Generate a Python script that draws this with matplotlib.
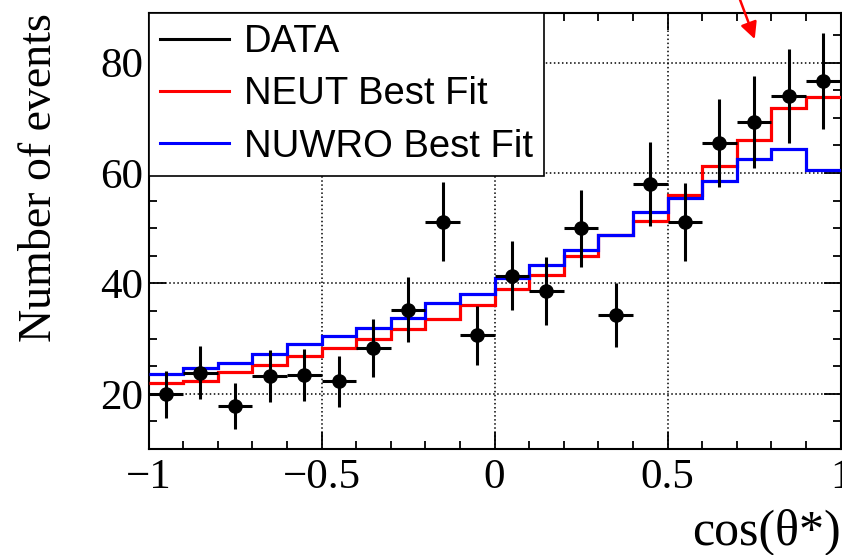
import numpy as np
import matplotlib
matplotlib.use('Agg')
import matplotlib.pyplot as plt
from matplotlib.lines import Line2D
from matplotlib.ticker import MultipleLocator, FixedLocator

# binning in cos(theta*)
bin_edges = np.linspace(-1, 1, 21)

# data points
data_vals = [19.9, 23.8, 17.8, 23.2, 23.4, 22.3, 28.3, 35.2, 51.2, 30.6,
             41.4, 38.6, 50.0, 34.2, 58.0, 51.1, 65.4, 69.2, 74.0, 76.6]
data_err = [4.3, 4.8, 4.1, 4.7, 4.7, 4.6, 5.2, 5.9, 7.1, 5.4,
            6.3, 6.1, 7.0, 5.8, 7.6, 7.1, 8.0, 8.3, 8.5, 8.7]

neut_vals = [21.9, 22.3, 23.9, 25.2, 26.8, 28.3, 30.0, 31.8, 33.6, 36.1,
             39.0, 41.6, 44.9, 48.8, 51.4, 56.1, 61.3, 66.0, 71.8, 73.7]
nuwro_vals = [23.5, 24.6, 25.6, 27.3, 29.0, 30.5, 31.9, 33.7, 36.5, 38.0,
              41.0, 43.3, 46.1, 48.8, 52.9, 55.5, 58.5, 62.6, 64.3, 60.5]

x_ticks = [-1, -0.5, 0, 0.5, 1]
x_tick_labels = ['\u22121', '\u22120.5', '0', '0.5', '1']
y_ticks = [20, 40, 60, 80]

serif = 'Liberation Serif'
sans = 'Liberation Sans'

fig = plt.figure(figsize=(8.42, 5.55), dpi=100)
ax = fig.add_axes([148.5/842, 106/555, 692/842, 436/555])

centers = 0.5 * (bin_edges[:-1] + bin_edges[1:])
half_w = 0.5 * np.diff(bin_edges)

# step histograms (no baseline edges)
ax.stairs(neut_vals, bin_edges, baseline=None, color='#ff0000', lw=2.3, zorder=3)
ax.stairs(nuwro_vals, bin_edges, baseline=None, color='#0000ff', lw=2.3, zorder=3)

# data with errors
ax.errorbar(centers, data_vals, yerr=data_err, xerr=half_w, fmt='o',
            color='black', ms=9.5, lw=2.2, capsize=0, zorder=4)

ax.set_xlim(-1, 1)
ax.set_ylim(10, 89)

ax.xaxis.set_major_locator(FixedLocator(x_ticks))
ax.xaxis.set_minor_locator(MultipleLocator(0.1))
ax.yaxis.set_major_locator(FixedLocator(y_ticks))
ax.yaxis.set_minor_locator(MultipleLocator(5))
ax.set_xticklabels(x_tick_labels)

ax.tick_params(which='both', direction='in', top=True, right=True, width=1.3)
ax.tick_params(which='major', length=12, labelsize=31)
ax.tick_params(axis='x', which='major', pad=7)
ax.tick_params(axis='y', which='major', pad=4)
ax.tick_params(which='minor', length=6)
for lab in ax.get_xticklabels() + ax.get_yticklabels():
    lab.set_fontfamily(serif)
for s in ax.spines.values():
    s.set_linewidth(1.5)

ax.grid(True, which='major', ls=':', color='black', lw=1.1)

ax.set_ylabel('Number of events', fontfamily=serif, fontsize=33, loc='top', labelpad=28)
ax.set_xlabel('cos(\u03b8*)', fontfamily=serif, fontsize=36, loc='right', labelpad=8)

handles = [Line2D([], [], color='black', lw=2.2),
           Line2D([], [], color='#ff0000', lw=2.2),
           Line2D([], [], color='#0000ff', lw=2.2)]
leg = ax.legend(handles, ['DATA', 'NEUT Best Fit', 'NUWRO Best Fit'],
                loc='upper left', bbox_to_anchor=(0, 1), borderaxespad=0,
                fancybox=False, edgecolor='black', framealpha=1,
                prop={'family': sans, 'size': 27.5}, handlelength=1.8,
                handletextpad=0.4, labelspacing=0.42, borderpad=0.3)
leg.get_frame().set_linewidth(1.2)
leg.set_zorder(5)

# red arrow at the top
ax.annotate('', xy=(0.755, 83.8), xytext=(0.70, 93),
            arrowprops=dict(arrowstyle='-|>', color='#ff0000', lw=1.8,
                            mutation_scale=25),
            annotation_clip=False)

fig.savefig('out.png', dpi=100)
